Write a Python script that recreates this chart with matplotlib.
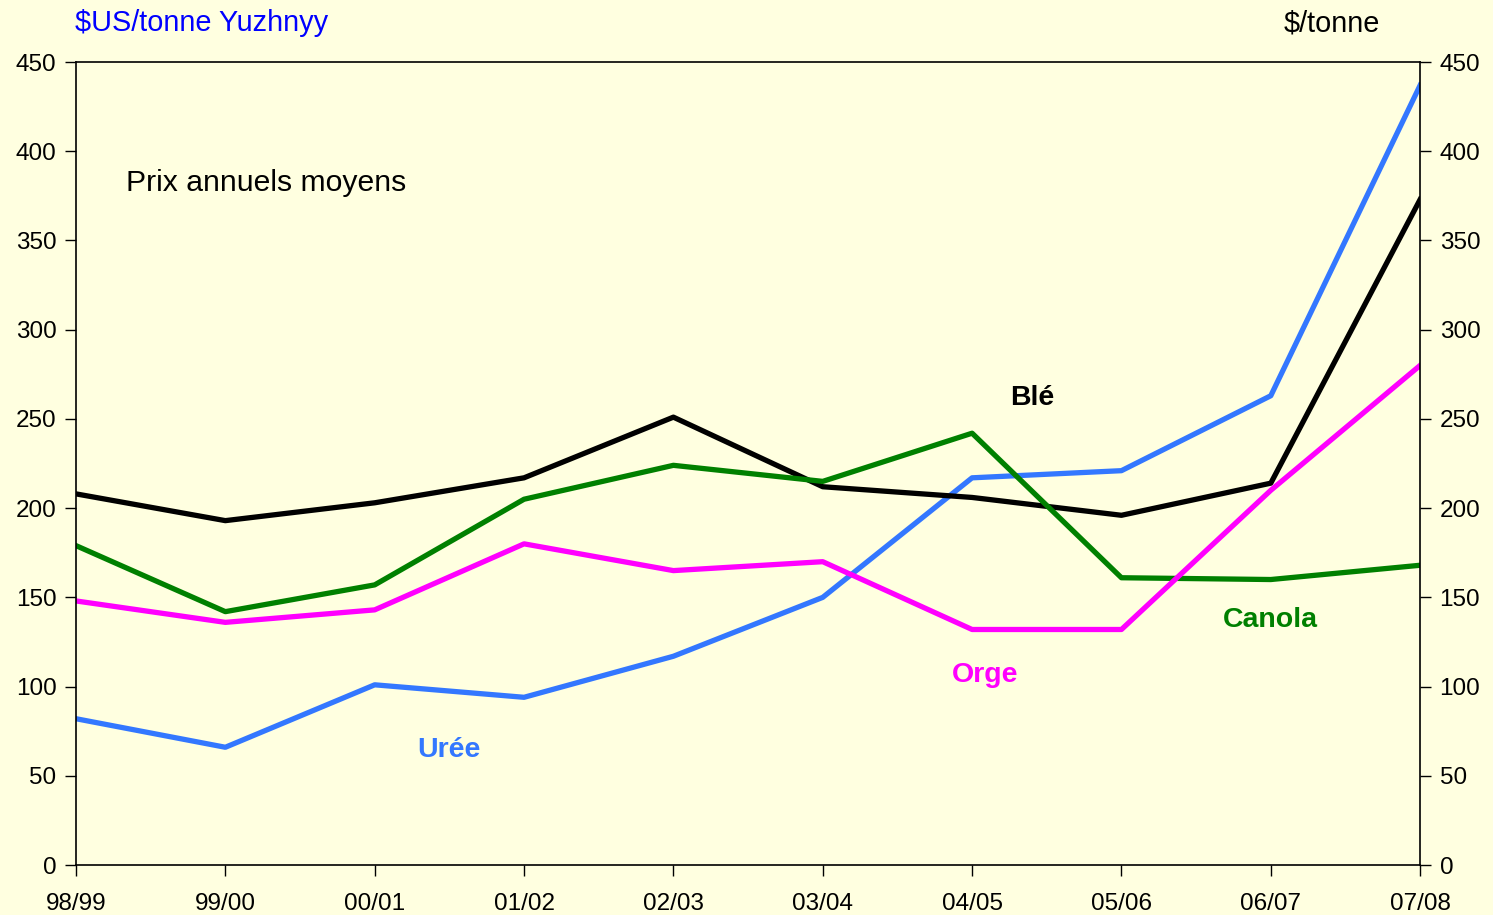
import matplotlib.pyplot as plt

plt.rcParams['font.family'] = ['Liberation Sans', 'DejaVu Sans']

seasons = ["98/99", "99/00", "00/01", "01/02", "02/03", "03/04", "04/05", "05/06", "06/07", "07/08"]
uree = [82, 66, 101, 94, 117, 150, 217, 221, 263, 437]
ble = [208, 193, 203, 217, 251, 212, 206, 196, 214, 373]
canola = [179, 142, 157, 205, 224, 215, 242, 161, 160, 168]
orge = [148, 136, 143, 180, 165, 170, 132, 132, 210, 280]

bg = '#FFFFE0'
fig = plt.figure(figsize=(14.93, 9.15), dpi=100, facecolor=bg)
ax = fig.add_axes([0.0509, 0.0546, 0.9003, 0.8776], facecolor=bg)

x = range(len(seasons))
ax.plot(x, uree, color='#3377FF', lw=3.8)
ax.plot(x, ble, color='black', lw=3.8)
ax.plot(x, canola, color='#008000', lw=3.8)
ax.plot(x, orge, color='#FF00FF', lw=3.8)

ax.set_xlim(0, len(seasons) - 1)
ax.set_ylim(0, 450)
ax.set_xticks(list(x))
ax.set_xticklabels(seasons)
ax.set_yticks(range(0, 451, 50))
ax.tick_params(axis='both', labelsize=17.5, direction='out', length=8, width=1)
ax.tick_params(axis='y', right=True, labelright=True, pad=6)
ax.tick_params(axis='x', pad=12)
for s in ax.spines.values():
    s.set_linewidth(1.2)

# annotations
ax.text(0.037, 0.849, "Prix annuels moyens", transform=ax.transAxes, fontsize=21.7, va='center')
ax.text(2.5, 64.5, "Urée", color='#3377FF', fontsize=20.5, fontweight='bold', ha='center', va='center')
ax.text(6.09, 106.5, "Orge", color='#FF00FF', fontsize=20.5, fontweight='bold', ha='center', va='center')
ax.text(6.4, 261.5, "Blé", color='black', fontsize=20.5, fontweight='bold', ha='center', va='center')
ax.text(8.0, 137.5, "Canola", color='#008000', fontsize=20.5, fontweight='bold', ha='center', va='center')

fig.text(75 / 1493, 1 - 23 / 915, "$US/tonne Yuzhnyy", color='blue', fontsize=20.8, va='center')
fig.text(1380 / 1493, 1 - 23 / 915, "$/tonne", color='black', fontsize=20.8, va='center', ha='right')

fig.savefig("out.png", dpi=100, facecolor=bg)
